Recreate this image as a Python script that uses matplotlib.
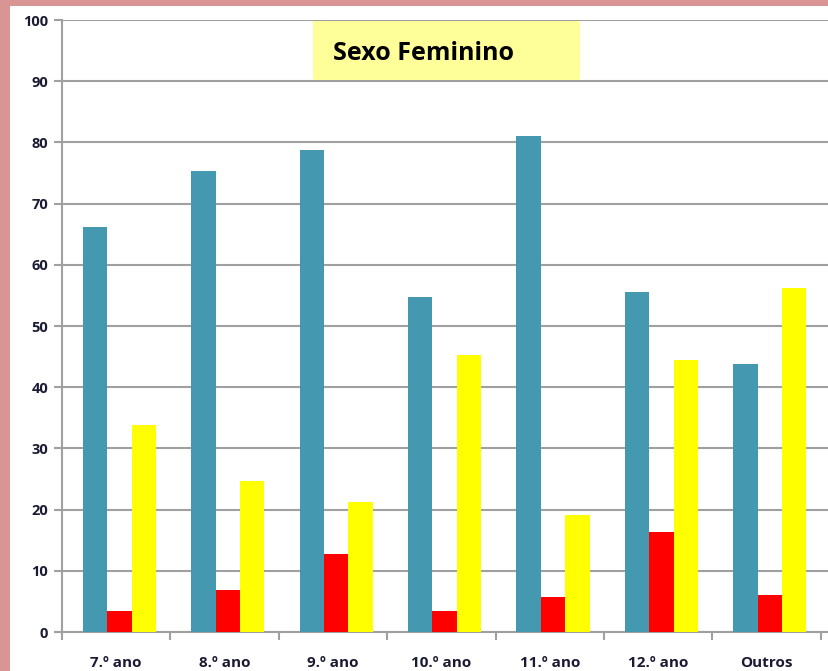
import numpy as np
import matplotlib.pyplot as plt
from matplotlib.patches import Rectangle

# dados do grafico
categorias = ['7.º ano', '8.º ano', '9.º ano', '10.º ano', '11.º ano', '12.º ano', 'Outros']
azul = [66.2, 75.4, 78.8, 54.8, 81.0, 55.6, 43.8]
vermelho = [3.5, 6.8, 12.8, 3.5, 5.8, 16.4, 6.1]
amarelo = [33.8, 24.6, 21.3, 45.2, 19.1, 44.5, 56.2]
titulo = 'Sexo Feminino'

W, H = 829, 671
fig = plt.figure(figsize=(W / 100, H / 100), dpi=100)
fig.patch.set_facecolor('white')
# moldura rosa (esquerda e topo)
fig.patches.append(Rectangle((0, 0), 10 / W, 1, transform=fig.transFigure,
                             facecolor='#D99594', edgecolor='none', zorder=-10))
fig.patches.append(Rectangle((0, 1 - 6 / H), 1, 6 / H, transform=fig.transFigure,
                             facecolor='#D99594', edgecolor='none', zorder=-10))

ax = fig.add_axes([62 / W, (H - 632) / H, (W - 62) / W, 612 / H])
ax.set_facecolor('none')

x = np.arange(len(categorias))
bw = 0.225
off = 0.03
ax.bar(x - bw + off, azul, bw, color='#4499B0', zorder=3)
ax.bar(x + off, vermelho, bw, color='#FF0000', zorder=3)
ax.bar(x + bw + off, amarelo, bw, color='#FFFF00', zorder=3)

ax.set_ylim(0, 100)
ax.set_xlim(-0.5, -0.5 + (W - 62) / 108.4)
ax.set_yticks(np.arange(0, 101, 10))
ax.grid(axis='y', color='#A0A0A0', linewidth=1.5, zorder=1)

for s in ['top', 'right']:
    ax.spines[s].set_visible(False)
for s in ['left', 'bottom']:
    ax.spines[s].set_color('#A0A0A0')
    ax.spines[s].set_linewidth(1.5)

ax.set_xticks(x)
ax.set_xticklabels(categorias)
ax.set_xticks(np.arange(-0.5, 7, 1), minor=True)
ax.tick_params(axis='x', which='major', length=0, pad=17)
ax.tick_params(axis='x', which='minor', length=6, width=1.5, color='#A0A0A0')
ax.tick_params(axis='y', length=6, width=1.5, color='#A0A0A0', pad=4)
for lab in ax.get_xticklabels() + ax.get_yticklabels():
    lab.set_fontfamily('Open Sans')
    lab.set_fontweight('bold')
    lab.set_color('#1A1A33')
for lab in ax.get_yticklabels():
    lab.set_fontsize(10.5)
for lab in ax.get_xticklabels():
    lab.set_fontsize(11)

# caixa do titulo
ax.add_patch(Rectangle(((313 - 62) / (W - 62), (632 - 80) / 612), 267 / (W - 62), 59 / 612,
                       transform=ax.transAxes, facecolor='#FFFF99', edgecolor='none', zorder=4))
ax.text((333 - 62) / (W - 62), (632 - 53) / 612, titulo, transform=ax.transAxes,
        fontsize=18, fontweight='bold', fontfamily='Open Sans', va='center', ha='left', zorder=5)

fig.savefig('out.png', dpi=100)
